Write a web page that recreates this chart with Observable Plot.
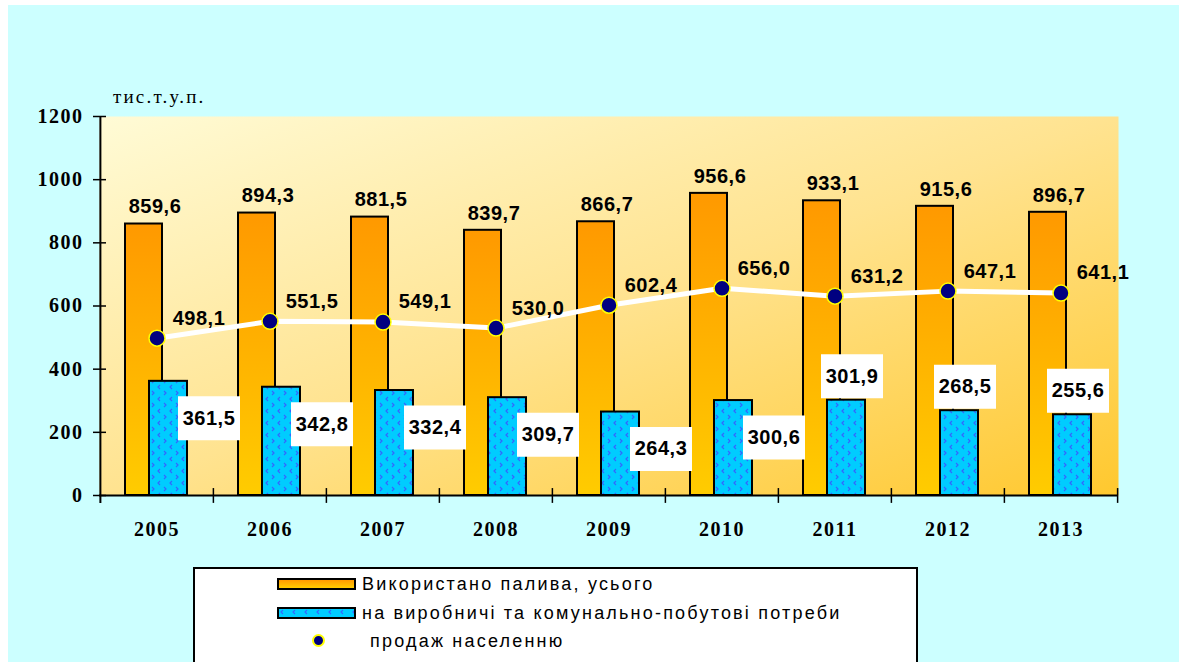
<!DOCTYPE html>
<html>
<head>
<meta charset="utf-8">
<script src="https://cdn.jsdelivr.net/npm/d3@7"></script>
<script src="https://cdn.jsdelivr.net/npm/@observablehq/plot@0.6"></script>
<style>
  html, body { margin: 0; padding: 0; background: #ffffff; width: 1179px; height: 662px; overflow: hidden; }
  #bgpanel { position: absolute; left: 8px; top: 5px; right: 0; bottom: 0; background: #ccffff; }
  #chart { position: absolute; left: 0; top: 0; }
  #unit { position: absolute; left: 113px; top: 86px; font-family: "Liberation Serif", "Times New Roman", serif; font-size: 19px; letter-spacing: 2.2px; color: #000; }
  #legend { position: absolute; left: 193px; top: 567px; width: 721px; height: 110px; background: #fff; border: 2px solid #000; font-family: "Liberation Sans", Arial, sans-serif; font-size: 18px; letter-spacing: 2.2px; color: #000; }
  .lrow { position: absolute; left: 0; height: 22px; line-height: 22px; white-space: nowrap; }
  .sw { position: absolute; width: 75px; height: 8px; border: 2px solid #000; }
  .lt { position: absolute; }
  .ldot { position: absolute; width: 9px; height: 9px; border-radius: 50%; background: #000080; border: 2px solid #ffff00; }
  g[aria-label="y-axis tick label"] text, g[aria-label="x-axis tick label"] text { letter-spacing: 1.5px; }
  .lbl text { letter-spacing: 0.5px; }
</style>
</head>
<body>
<div id="bgpanel"></div>
<div id="chart"></div>
<div id="unit">тис.т.у.п.</div>
<div id="legend">
  <div class="lrow" style="top:4px;"><div class="sw" style="left:82px;top:5px;background:linear-gradient(#ff9900,#ffcc00);"></div><span class="lt" style="left:167px;">Використано палива, усього</span></div>
  <div class="lrow" style="top:33px;"><div class="sw" id="bluesw" style="left:82px;top:5px;background:#00ccff;"></div><span class="lt" style="left:167px;">на виробничі та комунально-побутові потреби</span></div>
  <div class="lrow" style="top:61px;"><div class="ldot" style="left:117px;top:4px;"></div><span class="lt" style="left:175px;">продаж населенню</span></div>
</div>
<script>
const years = ["2005","2006","2007","2008","2009","2010","2011","2012","2013"];
const totalFuel = [859.6, 894.3, 881.5, 839.7, 866.7, 956.6, 933.1, 915.6, 896.7];
const productionUse = [361.5, 342.8, 332.4, 309.7, 264.3, 300.6, 301.9, 268.5, 255.6];
const soldToPopulation = [498.1, 551.5, 549.1, 530.0, 602.4, 656.0, 631.2, 647.1, 641.1];
const yTicks = [0, 200, 400, 600, 800, 1000, 1200];

const rows = years.map((y, i) => ({year: y, total: totalFuel[i], prod: productionUse[i], pop: soldToPopulation[i], idx: i}));
const fmt = v => v.toFixed(1).replace(".", ",");

const W = 1179, H = 560, ML = 99, MR = 61, MT = 116, MB = 65;
const bw = (W - ML - MR) / years.length;
const boxSymbol = { draw(ctx) { ctx.rect(-31, -22, 62, 44); } };
const bold = {fontFamily: "Liberation Sans, Arial, sans-serif", fontWeight: "bold", fontSize: 20, fill: "#000"};

const plot = Plot.plot({
  width: W, height: H,
  marginLeft: ML, marginRight: MR, marginTop: MT, marginBottom: MB,
  style: {background: "transparent", fontFamily: "Liberation Sans, Arial, sans-serif", overflow: "visible"},
  x: {type: "band", domain: years, padding: 0, label: null},
  y: {domain: [0, 1200], label: null},
  marks: [
    Plot.frame({fill: "url(#bgGrad)", stroke: "none"}),
    Plot.barY(rows, {x: "year", y: "total", fill: "url(#orangeGrad)", stroke: "#000", strokeWidth: 2, insetLeft: 25, insetRight: 51}),
    Plot.barY(rows, {x: "year", y: "prod", fill: "url(#bluePat)", stroke: "#000", strokeWidth: 2, insetLeft: 49, insetRight: 26}),
    Plot.ruleY([0], {stroke: "#000", strokeWidth: 2}),
    Plot.ruleX([years[0]], {x: d => d, y1: -25, y2: 1200, dx: -bw / 2, stroke: "#000", strokeWidth: 2}),
    Plot.ruleX(years.slice(1), {x: d => d, y1: -25, y2: 22, dx: -bw / 2, stroke: "#000", strokeWidth: 1.5}),
    Plot.ruleX([years[years.length - 1]], {x: d => d, y1: -25, y2: 22, dx: bw / 2, stroke: "#000", strokeWidth: 1.5}),
    Plot.axisY({ticks: yTicks, tickSize: 6, tickPadding: 10, tickFormat: d => String(d), fontFamily: "Liberation Serif, Times New Roman, serif", fontWeight: "bold", fontSize: 20, strokeWidth: 1.5}),
    Plot.axisY({ticks: yTicks, tickSize: 7, dx: 7, tickFormat: () => "", strokeWidth: 1.5}),
    Plot.axisX({tickSize: 0, tickPadding: 26, fontFamily: "Liberation Serif, Times New Roman, serif", fontWeight: "bold", fontSize: 20}),
    Plot.text(rows, {x: "year", y: "total", text: d => fmt(d.total), dy: -17, dx: -2, ...bold, className: "lbl"}),
    Plot.line(rows, {x: "year", y: "pop", stroke: "#ffffff", strokeWidth: 5}),
    Plot.dot(rows, {x: "year", y: "pop", r: 8, fill: "#000080", stroke: "#ffff00", strokeWidth: 1.5}),
    Plot.text(rows, {x: "year", y: "pop", text: d => fmt(d.pop), dx: 42, dy: -20, ...bold, className: "lbl"}),
    Plot.dot(rows.filter(d => d.idx < 6), {x: "year", y: "prod", symbol: boxSymbol, fill: "#fff", stroke: "none", dx: 52, dy: 37}),
    Plot.text(rows.filter(d => d.idx < 6), {x: "year", y: "prod", text: d => fmt(d.prod), dx: 52, dy: 37, ...bold, className: "lbl"}),
    Plot.dot(rows.filter(d => d.idx >= 6), {x: "year", y: "prod", symbol: boxSymbol, fill: "#fff", stroke: "none", dx: 17, dy: -24}),
    Plot.text(rows.filter(d => d.idx >= 6), {x: "year", y: "prod", text: d => fmt(d.prod), dx: 17, dy: -24, ...bold, className: "lbl"})
  ]
});

const defs = d3.create("svg:defs");
const bg = defs.append("linearGradient").attr("id", "bgGrad").attr("x1", 0).attr("y1", 0).attr("x2", 1).attr("y2", 1);
bg.append("stop").attr("offset", "0%").attr("stop-color", "#fffbd6");
bg.append("stop").attr("offset", "50%").attr("stop-color", "#ffe390");
bg.append("stop").attr("offset", "100%").attr("stop-color", "#ffc82e");
const og = defs.append("linearGradient").attr("id", "orangeGrad").attr("x1", 0).attr("y1", 0).attr("x2", 0).attr("y2", 1);
og.append("stop").attr("offset", "0%").attr("stop-color", "#ff9900");
og.append("stop").attr("offset", "100%").attr("stop-color", "#ffcc00");
const bp = defs.append("pattern").attr("id", "bluePat").attr("patternUnits", "userSpaceOnUse").attr("width", 12).attr("height", 12);
bp.append("rect").attr("width", 12).attr("height", 12).attr("fill", "#00ccff");
bp.append("path").attr("d", "M4,1 L2,3 L4,5").attr("fill", "none").attr("stroke", "#3366ff").attr("stroke-width", 1.2);
bp.append("path").attr("d", "M8,7 L10,9 L8,11").attr("fill", "none").attr("stroke", "#3366ff").attr("stroke-width", 1.2);
plot.insertBefore(defs.node(), plot.firstChild);
document.getElementById("chart").appendChild(plot);

document.getElementById("bluesw").style.background =
  "#00ccff url(\"data:image/svg+xml;utf8,<svg xmlns='http://www.w3.org/2000/svg' width='12' height='8'><path d='M4,1 L2,3 L4,5' fill='none' stroke='%233366ff' stroke-width='1.2'/></svg>\")";
</script>
</body>
</html>
